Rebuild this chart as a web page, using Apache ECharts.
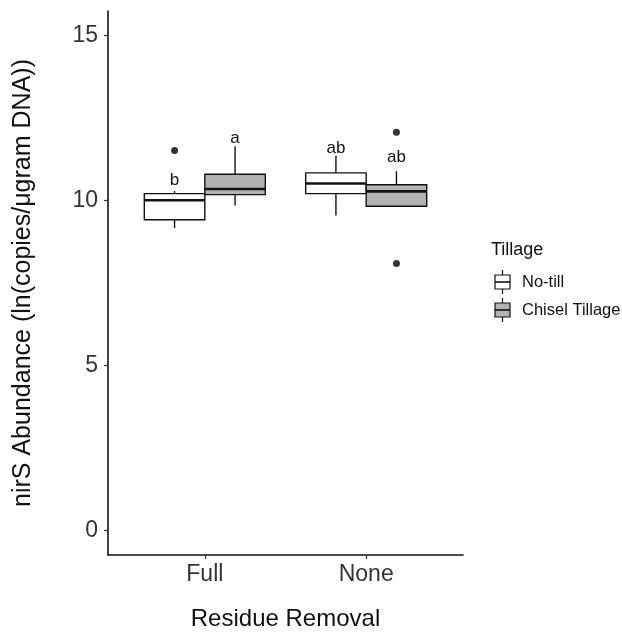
<!DOCTYPE html>
<html>
<head>
<meta charset="utf-8">
<script src="https://cdn.jsdelivr.net/npm/echarts@6/dist/echarts.min.js"></script>
<style>
  html, body { margin: 0; padding: 0; background: #fff; }
  #chart { width: 622px; height: 632px; }
</style>
</head>
<body>
<div id="chart"></div>
<script>
// categories and groups
const categories = ['Full', 'None'];
const groups = ['No-till', 'Chisel Tillage'];

// box stats per category: [low whisker, Q1, median, Q3, high whisker]
const noTillStats = [[9.17, 9.42, 10.01, 10.21, 10.29], [9.55, 10.21, 10.52, 10.84, 11.36]];
const chiselStats = [[9.85, 10.18, 10.35, 10.80, 11.65], [9.83, 9.83, 10.28, 10.48, 10.89]];

// outliers: [category index, value]
const noTillOutliers = [[0, 11.52]];
const chiselOutliers = [[1, 12.07], [1, 8.09]];

// significance letters and their baseline heights
const noTillLetters = ['b', 'ab'];
const noTillLetterY = [10.45, 11.41];
const chiselLetters = ['a', 'ab'];
const chiselLetterY = [11.73, 11.14];

const yTicks = [0, 5, 10, 15];

const FONT = '"Liberation Sans", Arial, sans-serif';
const DODGE = 0.375; // width of one box in x units
const groupOffset = [-DODGE / 2, DODGE / 2];
const groupFill = ['#ffffff', '#b2b2b2'];

const chart = echarts.init(document.getElementById('chart'));

function boxData(stats, letterY, g) {
  return stats.map((s, i) => [i + 1 + groupOffset[g], ...s, letterY[i]]);
}

function makeRender(g, letters) {
  return function (params, api) {
    const x = api.value(0);
    const half = api.size([DODGE, 0])[0] / 2;
    const lo = api.coord([x, api.value(1)]);
    const q1 = api.coord([x, api.value(2)]);
    const med = api.coord([x, api.value(3)]);
    const q3 = api.coord([x, api.value(4)]);
    const hi = api.coord([x, api.value(5)]);
    const lt = api.coord([x, api.value(6)]);
    const cx = q1[0];
    const ls = { stroke: '#111', lineWidth: 1.4 };
    return {
      type: 'group',
      children: [
        { type: 'line', shape: { x1: cx, y1: hi[1], x2: cx, y2: q3[1] }, style: ls },
        { type: 'line', shape: { x1: cx, y1: q1[1], x2: cx, y2: lo[1] }, style: ls },
        { type: 'rect', shape: { x: cx - half, y: q3[1], width: half * 2, height: q1[1] - q3[1] },
          style: { fill: groupFill[g], stroke: '#111', lineWidth: 1.4 } },
        { type: 'line', shape: { x1: cx - half, y1: med[1], x2: cx + half, y2: med[1] },
          style: { stroke: '#111', lineWidth: 2.6 } },
        { type: 'text', x: cx, y: lt[1] + 3,
          style: { text: letters[params.dataIndex], fill: '#111', font: '17px ' + FONT,
                   align: 'center', verticalAlign: 'bottom' } }
      ]
    };
  };
}

function outlierData(list, g) {
  return list.map(([c, v]) => [c + 1 + groupOffset[g], v]);
}

function legendKey(y, fill) {
  const x0 = 495, w = 15;
  return [
    { type: 'line', shape: { x1: x0 + w / 2, y1: y - 12, x2: x0 + w / 2, y2: y + 12 }, style: { stroke: '#111', lineWidth: 1.2 } },
    { type: 'rect', shape: { x: x0, y: y - 7, width: w, height: 14 }, style: { fill: fill, stroke: '#111', lineWidth: 1.2 } },
    { type: 'line', shape: { x1: x0, y1: y, x2: x0 + w, y2: y }, style: { stroke: '#111', lineWidth: 1.6 } }
  ];
}

const option = {
  animation: false,
  backgroundColor: '#fff',
  grid: { left: 108, right: 159, top: 11, bottom: 77, outerBoundsMode: 'none' },
  xAxis: {
    type: 'value',
    min: 0.4,
    max: 2.6,
    name: 'Residue Removal',
    nameLocation: 'middle',
    nameGap: 52,
    nameTextStyle: { fontSize: 24, color: '#111', fontFamily: FONT },
    axisLine: { show: true, onZero: false, lineStyle: { color: '#111', width: 1.6 } },
    axisTick: { show: true, length: 4, customValues: [1, 2], lineStyle: { color: '#333', width: 1.2 } },
    axisLabel: { customValues: [1, 2], formatter: v => categories[Math.round(v) - 1], fontSize: 23,
                 color: '#333', fontFamily: FONT, margin: 8 },
    splitLine: { show: false }
  },
  yAxis: {
    type: 'value',
    min: -0.75,
    max: 15.75,
    name: 'nirS Abundance (ln(copies/\u03bcgram DNA))',
    nameLocation: 'middle',
    nameGap: 72,
    nameRotate: 90,
    nameTextStyle: { fontSize: 25, color: '#111', fontFamily: FONT },
    axisLine: { show: true, onZero: false, lineStyle: { color: '#111', width: 1.6 } },
    axisTick: { show: true, length: 4, customValues: yTicks, lineStyle: { color: '#333', width: 1.2 } },
    axisLabel: { customValues: yTicks, fontSize: 23, color: '#333', fontFamily: FONT, margin: 10 },
    splitLine: { show: false }
  },
  series: [
    { name: groups[0], type: 'custom', data: boxData(noTillStats, noTillLetterY, 0),
      renderItem: makeRender(0, noTillLetters), encode: { x: 0, y: [1, 5] } },
    { name: groups[1], type: 'custom', data: boxData(chiselStats, chiselLetterY, 1),
      renderItem: makeRender(1, chiselLetters), encode: { x: 0, y: [1, 5] } },
    { type: 'scatter', data: outlierData(noTillOutliers, 0), symbolSize: 7, itemStyle: { color: '#000' } },
    { type: 'scatter', data: outlierData(chiselOutliers, 1), symbolSize: 7, itemStyle: { color: '#000' } }
  ],
  graphic: [
    { type: 'text', left: 491, top: 241, style: { text: 'Tillage', font: '18px ' + FONT, fill: '#111' } },
    ...legendKey(282, groupFill[0]),
    { type: 'text', x: 522, y: 282, style: { text: groups[0], font: '16.5px ' + FONT, fill: '#111', verticalAlign: 'middle' } },
    ...legendKey(310, groupFill[1]),
    { type: 'text', x: 522, y: 310, style: { text: groups[1], font: '16.5px ' + FONT, fill: '#111', verticalAlign: 'middle' } }
  ]
};

chart.setOption(option);
</script>
</body>
</html>
